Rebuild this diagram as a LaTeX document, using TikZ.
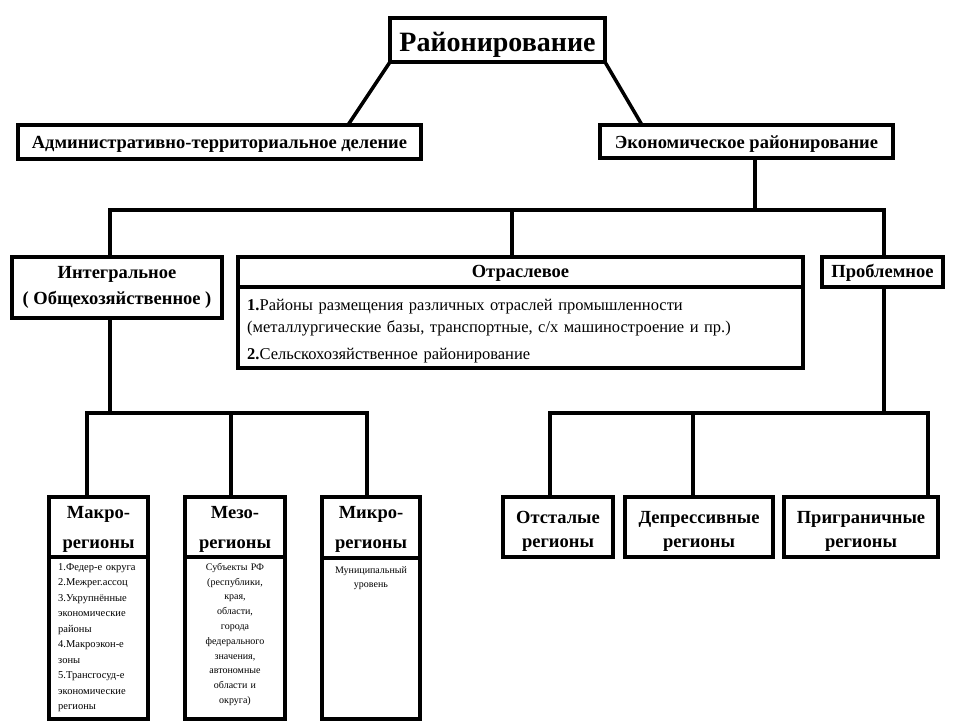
\documentclass[tikz,border=0pt]{standalone}
\usepackage{fontspec}
\setmainfont{Liberation Serif}
\newcommand{\lift}[1]{\rule{0pt}{#1pt}}
\begin{document}
\begin{tikzpicture}[x=1pt,y=-1pt,
  box/.style={draw, line width=3.5pt, inner sep=0pt, outer sep=0pt, anchor=north west, align=center},
  txt/.style={inner sep=0pt, anchor=north west},
  conn/.style={line width=3.5pt},
  fhead/.style={font=\fontsize{18.5}{26}\selectfont\bfseries},
  fsub/.style={font=\fontsize{18.5}{30}\selectfont\bfseries},
  freg/.style={font=\fontsize{18.5}{24}\selectfont\bfseries},
  fsmall/.style={font=\fontsize{10.5}{15.5}\selectfont}]
\fill[white] (0,0) rectangle (960,720);
\useasboundingbox (0,0) rectangle (960,720);
% level 0
\node[box, line width=4pt, minimum width=215, minimum height=44,
      font=\fontsize{28}{32}\selectfont\bfseries] (title) at (390,18) {\lift{28}Районирование};
% level 1
\node[box, minimum width=403, minimum height=34, fhead] (admin) at (18,125) {\lift{16.5}Административно-территориальное деление};
\node[box, minimum width=293, minimum height=33, fhead] (econ) at (600,125) {\lift{17}Экономическое районирование};
% level 2
\node[box, minimum width=210, minimum height=61, fhead] (integ) at (12,257) {Интегральное\\( Общехозяйственное )};
\node[box, minimum width=565, minimum height=30, fhead] (otrH) at (238,257) {\lift{14}Отраслевое};
\node[box, minimum width=565, minimum height=81] (otrB) at (238,287) {};
\node[txt, text width=555, align=left, font=\fontsize{16.5}{22}\selectfont] (otrT) at (247,299)
  {\textbf{1.}Районы размещения различных отраслей промышленности\\
   (металлургические базы, транспортные, с/х машиностроение и пр.)\\[5pt]
   \textbf{2.}Сельскохозяйственное районирование};
\node[box, minimum width=121, minimum height=30, fhead] (probl) at (822,257) {\lift{14}Проблемное};
% level 3 left
\node[box, minimum width=99, minimum height=60, fsub] (macroH) at (49,497) {\lift{16}Макро-\\регионы};
\node[box, minimum width=99, minimum height=162] (macroB) at (49,557) {};
\node[txt, text width=95, align=left, fsmall] (macroT) at (58,563)
  {1.Федер-е округа\\2.Межрег.ассоц\\3.Укрупнённые\\экономические\\районы\\4.Макроэкон-е\\зоны\\5.Трансгосуд-е\\экономические\\регионы};
\node[box, minimum width=100, minimum height=60, fsub] (mesoH) at (185,497) {\lift{16}Мезо-\\регионы};
\node[box, minimum width=100, minimum height=162] (mesoB) at (185,557) {};
\node[txt, anchor=north, text width=100, align=center, font=\fontsize{10}{14.8}\selectfont] (mesoT) at (235,563)
  {Субъекты РФ\\(республики,\\края,\\области,\\города\\федерального\\значения,\\автономные\\области и\\округа)};
\node[box, minimum width=98, minimum height=61, fsub] (microH) at (322,497) {\lift{16}Микро-\\регионы};
\node[box, minimum width=98, minimum height=161] (microB) at (322,558) {};
\node[txt, anchor=north, text width=98, align=center, font=\fontsize{10}{14}\selectfont] (microT) at (371,566)
  {Муниципальный\\уровень};
% level 3 right
\node[box, minimum width=110, minimum height=60, freg] (ots) at (503,497) {\lift{20}Отсталые\\регионы};
\node[box, minimum width=148, minimum height=60, freg] (dep) at (625,497) {\lift{20}Депрессивные\\регионы};
\node[box, minimum width=154, minimum height=60, freg] (prig) at (784,497) {\lift{20}Приграничные\\регионы};
% bus coordinates
\coordinate (busA) at (755,210);
\coordinate (busL) at (110,413);
\coordinate (busR) at (884,413);
% connectors
\draw[conn] (title.south west) -- ([xshift=-73]admin.north east);
\draw[conn] (title.south east) -- ([xshift=42]econ.north west);
\draw[conn] (busA |- econ.south) -- (busA);
\draw[conn] ([xshift=-7]integ.north) |- (busA) -| (busR |- probl.north);
\draw[conn] ([xshift=-8.5]otrH.north) -- ([xshift=-8.5]otrH.north |- busA);
\draw[conn] (busL |- integ.south) -- (busL);
\draw[conn] ([xshift=-11.5]macroH.north) |- (busL) -| ([xshift=-4]microH.north);
\draw[conn] ([xshift=-4]mesoH.north) -- ([xshift=-4]mesoH.north |- busL);
\draw[conn] (busR |- probl.south) -- (busR);
\draw[conn] ([xshift=-8]ots.north) |- (busR) -| ([xshift=67]prig.north);
\draw[conn] ([xshift=-6]dep.north) -- ([xshift=-6]dep.north |- busR);
\end{tikzpicture}
\end{document}
